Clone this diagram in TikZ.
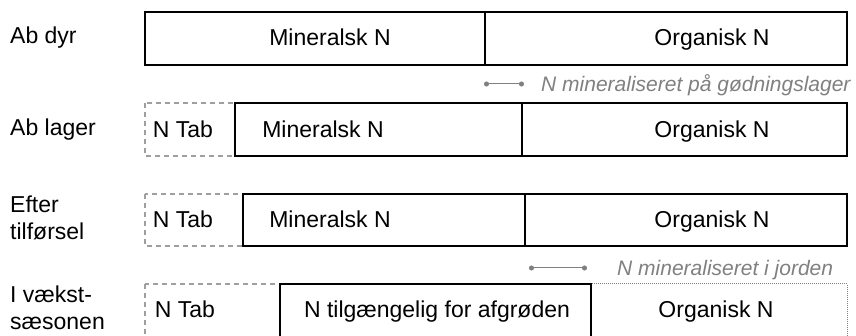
\documentclass[tikz,border=0pt]{standalone}
\usepackage{fontspec}
\setmainfont{Liberation Sans}
\usetikzlibrary{arrows.meta}
\begin{document}
\begin{tikzpicture}[x=1pt,y=-1pt,
  solidbox/.style={draw=black, line width=1.4pt},
  lossbox/.style={draw=gray!75, line width=1.2pt, dash pattern=on 5pt off 4pt},
  soilbox/.style={draw=gray, line width=1pt, dash pattern=on 1pt off 1pt},
  txt/.style={font=\fontsize{23}{28}\selectfont, anchor=base, inner sep=0pt},
  rowlbl/.style={font=\fontsize{23}{27}\selectfont, anchor=west, align=left, inner sep=0pt},
  note/.style={font=\fontsize{21}{27}\selectfont\itshape, text=gray, anchor=base west, inner sep=0pt},
  span/.style={draw=gray, line width=1pt, {Circle[length=5pt]}-{Circle[length=5pt]}}]
\useasboundingbox (0,0) rectangle (856,336);
\clip (0,0) rectangle (856,336);

% row labels
\node[rowlbl] (l1) at (10,38) {Ab dyr};
\node[rowlbl] (l2) at (10,130) {Ab lager};
\node[rowlbl] (l3) at (10,218) {Efter\\tilførsel};
\node[rowlbl] (l4) at (10,308) {I vækst-\\sæsonen};

% Ab dyr
\draw[solidbox] (145,12) rectangle (847,65);
\draw[solidbox] (485,12) -- (485,65);
\node[txt] (m1) at (330,46) {Mineralsk N};
\node[txt] (o1) at (712,46) {Organisk N};

% mineralisation in storage
\coordinate (a1) at (484,84);
\coordinate (b1) at (524,84);
\draw[span] (a1) -- (b1);
\node[note] (n1) at (541,92) {N mineraliseret på gødningslager};

% Ab lager
\draw[lossbox] (145,103) rectangle (235,156);
\draw[solidbox] (235,103) rectangle (847,156);
\draw[solidbox] (522,103) -- (522,156);
\node[txt] (t2) at (183,138) {N Tab};
\node[txt] (m2) at (323,138) {Mineralsk N};
\node[txt] (o2) at (712,138) {Organisk N};

% Efter tilførsel
\draw[lossbox] (145,194) rectangle (243,246);
\draw[solidbox] (243,194) rectangle (847,246);
\draw[solidbox] (525,194) -- (525,246);
\node[txt] (t3) at (183,228) {N Tab};
\node[txt] (m3) at (330,228) {Mineralsk N};
\node[txt] (o3) at (712,228) {Organisk N};

% mineralisation in soil
\coordinate (a2) at (529,268);
\coordinate (b2) at (587,268);
\draw[span] (a2) -- (b2);
\node[note] (n2) at (617,276) {N mineraliseret i jorden};

% I vækstsæsonen
\draw[lossbox] (145,284) rectangle (280,340);
\draw[soilbox] (591,284) rectangle (847,340);
\draw[solidbox] (280,284) rectangle (591,340);
\node[txt] (t4) at (185,318) {N Tab};
\node[txt] (a4) at (437,318) {N tilgængelig for afgrøden};
\node[txt] (o4) at (716,318) {Organisk N};
\end{tikzpicture}
\end{document}
